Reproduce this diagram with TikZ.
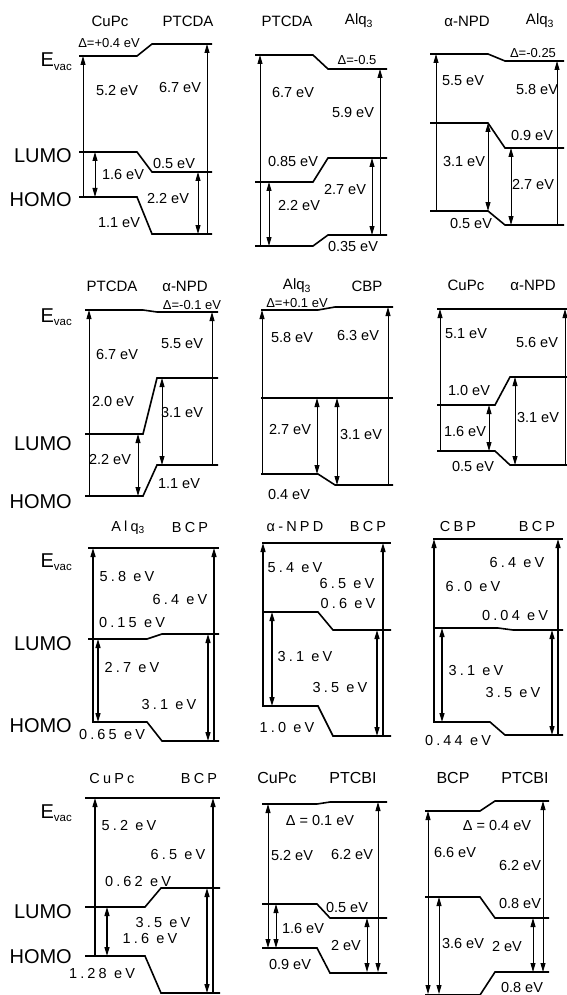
\documentclass[tikz,border=0pt]{standalone}
\usepackage{fontspec}
\setmainfont{Liberation Sans}
\newfontfamily\spacedfont[LetterSpace=22]{Liberation Sans}
\usetikzlibrary{arrows.meta}
\newcommand{\Alq}{Alq\textsubscript{3}}
\newcommand{\Evac}{E\raisebox{-0.35ex}{\fontsize{11.5}{12}\selectfont vac}}
\tikzset{
  level/.style={line width=1.6pt},
  eup/.style={-{Triangle[length=9pt,width=5pt]}, line width=0.8pt},
  egap/.style={{Triangle[length=9pt,width=5pt]}-{Triangle[length=9pt,width=5pt]}, line width=0.8pt},
  heup/.style={eup, line width=1.4pt},
  hegap/.style={egap, line width=1.4pt},
  val/.style={inner sep=0pt, font=\fontsize{14.5}{16}\selectfont},
  ttl/.style={inner sep=0pt, font=\fontsize{15}{16}\selectfont},
  dval/.style={inner sep=0pt, font=\fontsize{13}{14}\selectfont},
  wval/.style={inner sep=0pt, font=\spacedfont\fontsize{14.5}{16}\selectfont},
  side/.style={inner sep=0pt, anchor=base east, font=\fontsize{20}{22}\selectfont}
}
\begin{document}
\begin{tikzpicture}[x=1pt, y=-1pt]
\useasboundingbox (0,0) rectangle (567,995);
% side labels
\node[side] (s1e) at (72,67) {\Evac};
\node[side] (s1l) at (72,163) {LUMO};
\node[side] (s1h) at (72,207) {HOMO};
\node[side] (s2e) at (72,322) {\Evac};
\node[side] (s2l) at (72,450) {LUMO};
\node[side] (s2h) at (72,508) {HOMO};
\node[side] (s3e) at (72,567) {\Evac};
\node[side] (s3l) at (72,650) {LUMO};
\node[side] (s3h) at (72,732) {HOMO};
\node[side] (s4e) at (72,818) {\Evac};
\node[side] (s4l) at (72,918) {LUMO};
\node[side] (s4h) at (72,963) {HOMO};

% CuPc / PTCDA
\node[ttl] (t1a) at (110,21) {CuPc};
\node[ttl] (t1b) at (188,21) {PTCDA};
\draw[level] (79,56) -- (137,56) -- (152,44) -- (212,44);
\draw[level] (79,152) -- (137,152) -- (152,172) -- (212,172);
\draw[level] (79,197) -- (137,197) -- (152,234) -- (212,234);
\draw[eup] (83,197) -- (83,56);
\draw[egap] (95,152) -- (95,197);
\draw[egap] (198,172) -- (198,234);
\draw[eup] (207,234) -- (207,44);
\node[dval] (d1) at (109,43) {Δ=+0.4 eV};
\node[val] (v1a) at (117,91) {5.2 eV};
\node[val] (v1b) at (180,88) {6.7 eV};
\node[val] (v1c) at (123,175) {1.6 eV};
\node[val] (v1d) at (174,164) {0.5 eV};
\node[val] (v1e) at (168,199) {2.2 eV};
\node[val] (v1f) at (119,223) {1.1 eV};

% PTCDA / Alq3
\node[ttl] (t2a) at (287,21) {PTCDA};
\node[ttl] (t2b) at (359,21) {\Alq};
\draw[level] (255,55) -- (313,55) -- (328,69) -- (387,69);
\draw[level] (255,182) -- (313,182) -- (328,158) -- (387,158);
\draw[level] (255,246) -- (313,246) -- (328,235) -- (387,235);
\draw[eup] (260,246) -- (260,55);
\draw[egap] (269,182) -- (269,246);
\draw[egap] (372,158) -- (372,235);
\draw[eup] (380,235) -- (380,69);
\node[dval] (d2) at (357,60) {Δ=-0.5};
\node[val] (v2a) at (293,93) {6.7 eV};
\node[val] (v2b) at (353,113) {5.9 eV};
\node[val] (v2c) at (293,162) {0.85 eV};
\node[val] (v2d) at (345,190) {2.7 eV};
\node[val] (v2e) at (299,206) {2.2 eV};
\node[val] (v2f) at (353,247) {0.35 eV};

% a-NPD / Alq3
\node[ttl] (t3a) at (467,21) {α-NPD};
\node[ttl] (t3b) at (540,21) {\Alq};
\draw[level] (430,54) -- (488,54) -- (505,61) -- (564,61);
\draw[level] (430,123) -- (488,123) -- (505,148) -- (564,148);
\draw[level] (430,211) -- (488,211) -- (505,225) -- (564,225);
\draw[eup] (436,211) -- (436,54);
\draw[egap] (488,123) -- (488,211);
\draw[egap] (511,148) -- (511,225);
\draw[eup] (557,225) -- (557,61);
\node[dval] (d3) at (533,53) {Δ=-0.25};
\node[val] (v3a) at (463,81) {5.5 eV};
\node[val] (v3b) at (537,90) {5.8 eV};
\node[val] (v3c) at (464,162) {3.1 eV};
\node[val] (v3d) at (532,136) {0.9 eV};
\node[val] (v3e) at (533,185) {2.7 eV};
\node[val] (v3f) at (471,224) {0.5 eV};

% PTCDA / a-NPD
\node[ttl] (t4a) at (112,286) {PTCDA};
\node[ttl] (t4b) at (185,286) {α-NPD};
\draw[level] (85,310) -- (143,310) -- (157,312) -- (218,312);
\draw[level] (85,434) -- (143,434) -- (157,378) -- (218,378);
\draw[level] (85,496) -- (143,496) -- (157,465) -- (218,465);
\draw[eup] (89,496) -- (89,310);
\draw[egap] (138,434) -- (138,496);
\draw[egap] (162,378) -- (162,465);
\draw[eup] (212,465) -- (212,312);
\node[dval] (d4) at (192,305) {Δ=-0.1 eV};
\node[val] (v4a) at (117,355) {6.7 eV};
\node[val] (v4b) at (182,344) {5.5 eV};
\node[val] (v4c) at (113,402) {2.0 eV};
\node[val] (v4d) at (182,413) {3.1 eV};
\node[val] (v4e) at (110,460) {2.2 eV};
\node[val] (v4f) at (179,484) {1.1 eV};

% Alq3 / CBP
\node[ttl] (t5a) at (297,286) {\Alq};
\node[ttl] (t5b) at (367,286) {CBP};
\draw[level] (261,310) -- (318,310) -- (335,307) -- (393,307);
\draw[level] (261,398) -- (393,398);
\draw[level] (261,474) -- (318,474) -- (335,485) -- (393,485);
\draw[eup] (262,474) -- (262,310);
\draw[egap] (317,398) -- (317,474);
\draw[egap] (337,398) -- (337,485);
\draw[eup] (388,485) -- (388,307);
\node[dval] (d5) at (297,303) {Δ=+0.1 eV};
\node[val] (v5a) at (292,338) {5.8 eV};
\node[val] (v5b) at (358,336) {6.3 eV};
\node[val] (v5c) at (290,430) {2.7 eV};
\node[val] (v5d) at (361,435) {3.1 eV};
\node[val] (v5e) at (289,495) {0.4 eV};

% CuPc / a-NPD
\node[ttl] (t6a) at (466,285) {CuPc};
\node[ttl] (t6b) at (533,285) {α-NPD};
\draw[level] (437,309) -- (567,309);
\draw[level] (437,405) -- (495,405) -- (510,377) -- (567,377);
\draw[level] (437,451) -- (495,451) -- (510,465) -- (567,465);
\draw[eup] (440,451) -- (440,309);
\draw[egap] (489,405) -- (489,451);
\draw[egap] (515,377) -- (515,465);
\draw[eup] (565,465) -- (565,309);
\node[val] (v6a) at (466,334) {5.1 eV};
\node[val] (v6b) at (537,343) {5.6 eV};
\node[val] (v6c) at (469,391) {1.0 eV};
\node[val] (v6d) at (538,418) {3.1 eV};
\node[val] (v6e) at (465,432) {1.6 eV};
\node[val] (v6f) at (473,467) {0.5 eV};

% Alq3 / BCP
\node[wval] (t7a) at (128,528) {\Alq};
\node[wval] (t7b) at (190,528) {BCP};
\draw[level] (88,548) -- (219,548);
\draw[level] (88,639) -- (147,639) -- (162,634) -- (219,634);
\draw[level] (92,722) -- (147,722) -- (162,741) -- (219,741);
\draw[heup] (93,722) -- (93,548);
\draw[hegap] (98,639) -- (98,722);
\draw[hegap] (208,634) -- (208,741);
\draw[heup] (214,741) -- (214,548);
\node[wval] (v7a) at (127,577) {5.8 eV};
\node[wval] (v7b) at (180,600) {6.4 eV};
\node[wval] (v7c) at (132,623) {0.15 eV};
\node[wval] (v7d) at (132,668) {2.7 eV};
\node[wval] (v7e) at (169,705) {3.1 eV};
\node[wval] (v7f) at (112,735) {0.65 eV};

% a-NPD / BCP
\node[wval] (t8a) at (295,527) {α-NPD};
\node[wval] (t8b) at (368,527) {BCP};
\draw[level] (262,543) -- (391,543);
\draw[level] (262,612) -- (318,612) -- (333,630) -- (391,630);
\draw[level] (262,706) -- (318,706) -- (333,736) -- (391,736);
\draw[heup] (263,706) -- (263,543);
\draw[hegap] (272,612) -- (272,706);
\draw[hegap] (377,630) -- (377,736);
\draw[heup] (383,736) -- (383,543);
\node[wval] (v8a) at (295,568) {5.4 eV};
\node[wval] (v8b) at (347,584) {6.5 eV};
\node[wval] (v8c) at (348,604) {0.6 eV};
\node[wval] (v8d) at (305,657) {3.1 eV};
\node[wval] (v8e) at (340,688) {3.5 eV};
\node[wval] (v8f) at (287,728) {1.0 eV};

% CBP / BCP
\node[wval] (t9a) at (458,527) {CBP};
\node[wval] (t9b) at (537,527) {BCP};
\draw[level] (433,539) -- (563,539);
\draw[level] (433,628) -- (498,628) -- (513,630) -- (563,630);
\draw[level] (433,722) -- (490,722) -- (505,735) -- (563,735);
\draw[heup] (434,722) -- (434,539);
\draw[hegap] (442,628) -- (442,722);
\draw[hegap] (552,630) -- (552,735);
\draw[heup] (558,735) -- (558,539);
\node[wval] (v9a) at (517,563) {6.4 eV};
\node[wval] (v9b) at (473,587) {6.0 eV};
\node[wval] (v9c) at (515,616) {0.04 eV};
\node[wval] (v9d) at (476,671) {3.1 eV};
\node[wval] (v9e) at (513,693) {3.5 eV};
\node[wval] (v9f) at (458,740) {0.44 eV};

% CuPc / BCP
\node[wval] (t10a) at (112,778) {CuPc};
\node[wval] (t10b) at (199,778) {BCP};
\draw[level] (85,798) -- (220,798);
\draw[level] (85,907) -- (145,907) -- (161,888) -- (220,888);
\draw[level] (85,956) -- (145,956) -- (161,993) -- (220,993);
\draw[heup] (95,956) -- (95,798);
\draw[hegap] (107,907) -- (107,956);
\draw[hegap] (207,888) -- (207,993);
\draw[heup] (213,993) -- (213,798);
\node[wval] (v10a) at (129,825) {5.2 eV};
\node[wval] (v10b) at (178,854) {6.5 eV};
\node[wval] (v10c) at (138,881) {0.62 eV};
\node[wval] (v10d) at (163,922) {3.5 eV};
\node[wval] (v10e) at (150,938) {1.6 eV};
\node[wval] (v10f) at (102,973) {1.28 eV};

% CuPc / PTCBI
\node[ttl, font=\fontsize{16}{18}\selectfont] (t11a) at (277,778) {CuPc};
\node[ttl, font=\fontsize{16}{18}\selectfont] (t11b) at (353,778) {PTCBI};
\draw[level] (262,804) -- (317,804) -- (330,802) -- (387,802);
\draw[level] (262,904) -- (317,904) -- (330,918) -- (387,918);
\draw[level] (262,948) -- (317,948) -- (330,973) -- (387,973);
\draw[egap] (268,804) -- (268,948);
\draw[egap] (276,904) -- (276,948);
\draw[egap] (367,918) -- (367,972);
\draw[egap] (378,802) -- (378,972);
\node[val] (d11) at (320,820) {Δ = 0.1 eV};
\node[val] (v11a) at (292,855) {5.2 eV};
\node[val] (v11b) at (352,854) {6.2 eV};
\node[val] (v11c) at (347,907) {0.5 eV};
\node[val] (v11d) at (303,928) {1.6 eV};
\node[val] (v11e) at (346,945) {2 eV};
\node[val] (v11f) at (290,964) {0.9 eV};

% BCP / PTCBI
\node[ttl, font=\fontsize{16}{18}\selectfont] (t12a) at (453,778) {BCP};
\node[ttl, font=\fontsize{16}{18}\selectfont] (t12b) at (525,778) {PTCBI};
\draw[level] (425,811) -- (480,811) -- (495,801) -- (549,801);
\draw[level] (425,897) -- (480,897) -- (495,918) -- (549,918);
\draw[level] (425,995) -- (480,995) -- (495,972) -- (549,972);
\draw[egap] (428,811) -- (428,994);
\draw[egap] (439,897) -- (439,994);
\draw[egap] (533,918) -- (533,972);
\draw[egap] (543,801) -- (543,972);
\node[val] (d12) at (497,825) {Δ = 0.4 eV};
\node[val] (v12a) at (455,852) {6.6 eV};
\node[val] (v12b) at (520,865) {6.2 eV};
\node[val] (v12c) at (520,903) {0.8 eV};
\node[val] (v12d) at (463,943) {3.6 eV};
\node[val] (v12e) at (507,946) {2 eV};
\node[val] (v12f) at (522,987) {0.8 eV};
\end{tikzpicture}
\end{document}
